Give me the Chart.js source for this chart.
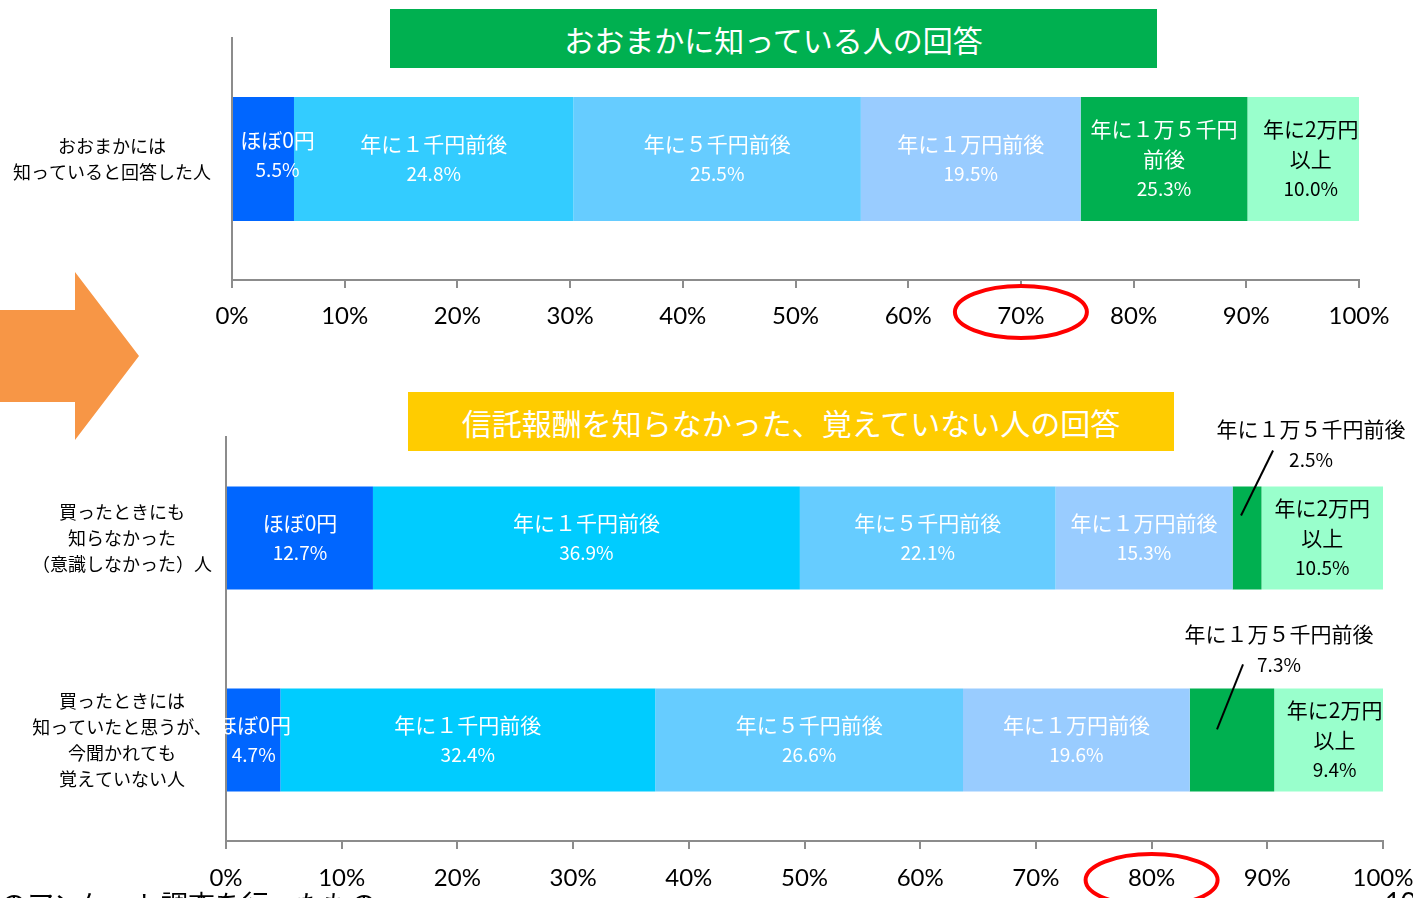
<!DOCTYPE html>
<html>
<head>
<meta charset="utf-8">
<script src="https://cdn.jsdelivr.net/npm/chart.js@4.4.1/dist/chart.umd.min.js"></script>
<style>
  html,body{margin:0;padding:0;background:#fff;}
  body{width:1413px;height:898px;overflow:hidden;position:relative;font-family:"Noto Sans CJK JP","Noto Sans",sans-serif;}
  .title{position:absolute;color:#fff;font-size:30px;display:flex;align-items:center;justify-content:center;line-height:1;}
  canvas{position:absolute;left:0;}
  .foot{position:absolute;font-size:27px;line-height:1;color:#000;white-space:nowrap;}
</style>
</head>
<body>
<script>
// ---------- data ----------
const seriesNames = ["ほぼ0円","年に１千円前後","年に５千円前後","年に１万円前後","年に１万５千円前後","年に2万円以上"];
const topCategories = [["おおまかには","知っていると回答した人"]];
const topValues = [5.5, 24.8, 25.5, 19.5, 14.8, 10.0];
const topShownPct = ["5.5%","24.8%","25.5%","19.5%","25.3%","10.0%"];
const bottomCategories = [
  ["買ったときにも","知らなかった","（意識しなかった）人"],
  ["買ったときには","知っていたと思うが、","今聞かれても","覚えていない人"]
];
const bottomRow1 = [12.7, 36.9, 22.1, 15.3, 2.5, 10.5];
const bottomRow2 = [4.7, 32.4, 26.6, 19.6, 7.3, 9.4];
const xTickValues = [0,10,20,30,40,50,60,70,80,90,100];
const topTitle = "おおまかに知っている人の回答";
const bottomTitle = "信託報酬を知らなかった、覚えていない人の回答";
const topHighlight = 70;
const bottomHighlight = 80;
// ---------- styles ----------
const topColors = ['#0066FF','#33CCFF','#66CCFF','#99CCFF','#00B050','#99FFCC'];
const bottomColors = ['#0066FF','#00CCFF','#66CCFF','#99CCFF','#00B050','#99FFCC'];
const labelColors = ['#fff','#fff','#fff','#fff','#fff','#000'];
const nameLinesTop = [["ほぼ0円"],["年に１千円前後"],["年に５千円前後"],["年に１万円前後"],["年に１万５千円","前後"],["年に2万円","以上"]];
const nameLinesBottom = [["ほぼ0円"],["年に１千円前後"],["年に５千円前後"],["年に１万円前後"],null,["年に2万円","以上"]];
const NAME_FONT = '21px "Noto Sans CJK JP"';
const PCT_FONT = '19px "Noto Sans CJK JP"';
const TICK_FONT_FAMILY = 'Lato';

function makeCanvas(top, w, h){
  const c = document.createElement('canvas');
  c.width = w; c.height = h;
  c.style.top = top + 'px'; c.style.width = w + 'px'; c.style.height = h + 'px';
  document.body.appendChild(c);
  return c;
}

function barLabelPlugin(cfg){
  return {
    id: 'barLabels_' + cfg.name,
    afterDatasetsDraw(chart){
      const ctx = chart.ctx;
      ctx.save();
      ctx.textAlign = 'center';
      ctx.textBaseline = 'middle';
      chart.data.datasets.forEach((ds, di) => {
        const meta = chart.getDatasetMeta(di);
        meta.data.forEach((bar, ri) => {
          const cx = (bar.x + bar.base) / 2;
          const top = bar.y - bar.height / 2;
          const names = cfg.names[di];
          const pct = cfg.pct(di, ri);
          const callout = cfg.callouts && cfg.callouts[di] && cfg.callouts[di][ri];
          if (callout) {
            ctx.fillStyle = '#000';
            ctx.font = NAME_FONT;
            ctx.fillText(names === null ? seriesNames[di] : names[0], cx + callout.dx, top + callout.dy);
            ctx.font = PCT_FONT;
            ctx.fillText(pct, cx + callout.dx, top + callout.dy + 30);
            ctx.strokeStyle = '#000'; ctx.lineWidth = 2;
            ctx.beginPath();
            ctx.moveTo(cx + callout.l[0], top + callout.l[1]);
            ctx.lineTo(cx + callout.l[2], top + callout.l[3]);
            ctx.stroke();
            return;
          }
          if (!names) return;
          const lines = names.map(t => ({t, f: NAME_FONT})).concat([{t: pct, f: PCT_FONT}]);
          const dx = (cfg.dx[di] && cfg.dx[di][ri]) || 0;
          const dy = (cfg.dy[di] && cfg.dy[di][ri]) || 0;
          const spacing = 30;
          const y0 = bar.y - (lines.length - 1) * spacing / 2 + dy;
          ctx.fillStyle = labelColors[di];
          lines.forEach((ln, k) => {
            ctx.font = ln.f;
            ctx.fillText(ln.t, cx + dx, y0 + k * spacing);
          });
        });
      });
      // category labels
      ctx.fillStyle = '#000';
      ctx.font = '18px "Noto Sans CJK JP"';
      const yScale = chart.scales.y;
      cfg.categories.forEach((lines, i) => {
        const yc = yScale.getPixelForValue(i);
        const sp = cfg.catSpacing;
        lines.forEach((t, k) => {
          ctx.fillText(t, cfg.catX, yc - (lines.length - 1) * sp / 2 + k * sp);
        });
      });
      ctx.restore();
    },
    afterDraw(chart){
      const ctx = chart.ctx;
      const xs = chart.scales.x;
      ctx.save();
      ctx.strokeStyle = '#FF0000';
      ctx.lineWidth = 4;
      ctx.beginPath();
      ctx.ellipse(xs.getPixelForValue(cfg.highlight), chart.chartArea.bottom + cfg.ellipseDy, 66, 26, 0, 0, Math.PI * 2);
      ctx.stroke();
      ctx.restore();
    }
  };
}

function makeChart(canvas, opts){
  const datasets = seriesNames.map((n, i) => ({
    label: n,
    data: opts.rows.map(r => r[i]),
    backgroundColor: opts.colors[i],
    borderWidth: 0,
    barPercentage: opts.barPct,
    categoryPercentage: 1.0
  }));
  return new Chart(canvas, {
    type: 'bar',
    data: { labels: opts.categories.map(c => c.join('')), datasets },
    options: {
      responsive: false,
      animation: false,
      devicePixelRatio: 1,
      indexAxis: 'y',
      layout: { padding: { top: opts.padTop, right: opts.padRight, left: 0, bottom: 0 } },
      plugins: { legend: { display: false }, tooltip: { enabled: false } },
      scales: {
        x: {
          stacked: true, min: 0, max: 100,
          afterBuildTicks(scale){ scale.ticks = xTickValues.map(v => ({value: v})); },
          afterFit(scale){ scale.height = 60; },
          ticks: {
            callback: v => v + '%',
            color: '#000',
            font: { family: TICK_FONT_FAMILY, size: 24 },
            padding: opts.tickPad,
            maxRotation: 0, autoSkip: false
          },
          grid: { display: true, drawOnChartArea: false, drawTicks: true, tickLength: 8, color: '#8C8C8C', lineWidth: 2 },
          border: { display: true, color: '#8C8C8C', width: 2 }
        },
        y: {
          stacked: true,
          afterFit(scale){ scale.width = opts.yWidth; },
          ticks: { display: false },
          grid: { display: false },
          border: { display: true, color: '#8C8C8C', width: 2 }
        }
      }
    },
    plugins: [barLabelPlugin(opts.labelCfg)]
  });
}

// ---------- top chart ----------
const c1 = makeCanvas(0, 1413, 340);
makeChart(c1, {
  rows: [topValues], colors: topColors, categories: topCategories,
  barPct: 0.512, padTop: 38, padRight: 54, yWidth: 232, tickPad: 14,
  labelCfg: {
    name: 'top', names: nameLinesTop, categories: topCategories,
    pct: (di) => topShownPct[di],
    dx: {0: [14], 5: [7]}, dy: {0: [-4]},
    catX: 112, catSpacing: 26, highlight: topHighlight, ellipseDy: 32
  }
});

// ---------- bottom chart ----------
const bottomRows = [bottomRow1, bottomRow2];
const c2 = makeCanvas(380, 1450, 521);
makeChart(c2, {
  rows: bottomRows, colors: bottomColors, categories: bottomCategories,
  barPct: 0.51, padTop: 57, padRight: 67, yWidth: 226, tickPad: 15,
  labelCfg: {
    name: 'bottom', names: nameLinesBottom, categories: bottomCategories,
    pct: (di, ri) => bottomRows[ri][di].toFixed(1) + '%',
    dx: {5: [0, 6]}, dy: {},
    callouts: {4: [
      {dx: 64, dy: -57, l: [-6, 29, 26, -36]},
      {dx: 47, dy: -54, l: [-15, 41, 11, -24]}
    ]},
    catX: 122, catSpacing: 26, highlight: bottomHighlight, ellipseDy: 39
  }
});

// ---------- decorations ----------
function addTitle(text, left, top, w, h, bg){
  const d = document.createElement('div');
  d.className = 'title';
  d.style.left = left + 'px'; d.style.top = top + 'px';
  d.style.width = w + 'px'; d.style.height = h + 'px';
  d.style.background = bg;
  d.textContent = text;
  document.body.appendChild(d);
}
addTitle(topTitle, 390, 9, 767, 59, '#00B050');
addTitle(bottomTitle, 408, 392, 766, 59, '#FFCC00');

const svgNS = 'http://www.w3.org/2000/svg';
const svg = document.createElementNS(svgNS, 'svg');
svg.setAttribute('width', '150'); svg.setAttribute('height', '898');
svg.style.position = 'absolute'; svg.style.left = '0'; svg.style.top = '0';
const poly = document.createElementNS(svgNS, 'polygon');
poly.setAttribute('points', '0,310 75,310 75,272 139,356 75,440 75,402 0,402');
poly.setAttribute('fill', '#F79646');
svg.appendChild(poly);
document.body.appendChild(svg);

const f1 = document.createElement('div');
f1.className = 'foot'; f1.style.left = '0px'; f1.style.top = '890px';
f1.textContent = 'のアンケート調査を行ったもの';
document.body.appendChild(f1);
const f2 = document.createElement('div');
f2.className = 'foot'; f2.style.left = '1385px'; f2.style.top = '888px';
f2.style.fontFamily = 'Lato';
f2.textContent = '10';
document.body.appendChild(f2);
</script>
</body>
</html>
